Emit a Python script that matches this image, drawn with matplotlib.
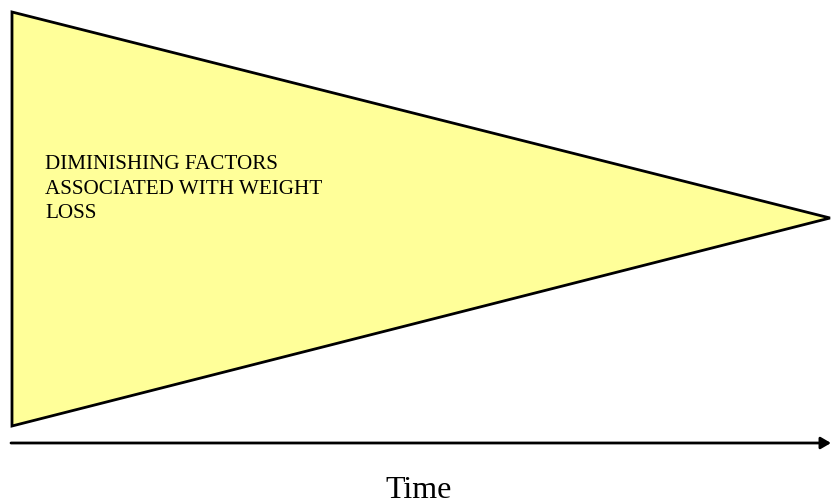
import matplotlib.pyplot as plt
from matplotlib.patches import Polygon

# Shape vertices in pixel coordinates (x, y from top)
triangle_x = [12, 830, 12]
triangle_y = [12, 218, 426]

arrow_start = (11, 443)
arrow_end = (831, 443)

label_lines = ["DIMINISHING FACTORS", "ASSOCIATED WITH WEIGHT", "LOSS"]
label_baselines = [169, 193.5, 218]
axis_label = "Time"

fig = plt.figure(figsize=(8.31, 5.01), dpi=100)
ax = fig.add_axes([0, 0, 1, 1])
ax.set_xlim(0, 831)
ax.set_ylim(501, 0)
ax.axis("off")

tri = Polygon(list(zip(triangle_x, triangle_y)), closed=True,
              facecolor="#FFFF99", edgecolor="black", linewidth=2, joinstyle="miter")
ax.add_patch(tri)

ax.annotate("", xy=arrow_end, xytext=arrow_start,
            arrowprops=dict(arrowstyle="-|>,head_length=0.6,head_width=0.35",
                            color="black", lw=2, shrinkA=0, shrinkB=0))

# one text per line so the spacing matches the reference
for line, yb in zip(label_lines, label_baselines):
    ax.text(45, yb, line, fontsize=15.2, family="Liberation Serif",
            va="baseline", ha="left")

ax.text(419, 497.5, axis_label, fontsize=23, family="Liberation Serif",
        va="baseline", ha="center")

fig.savefig("out.png", dpi=100)
